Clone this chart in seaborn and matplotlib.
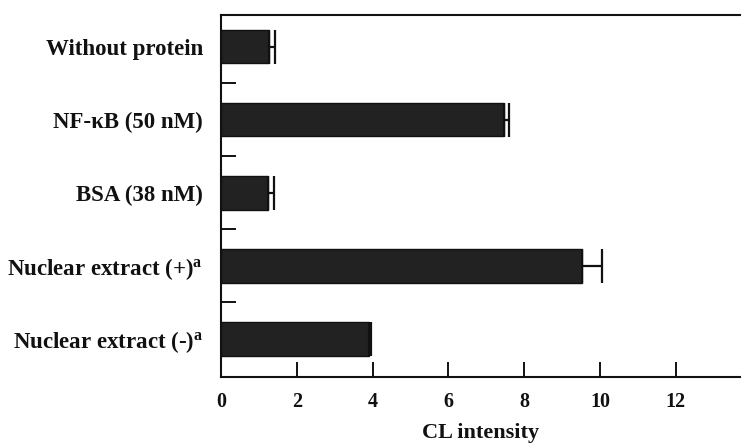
import matplotlib
matplotlib.use("Agg")
import matplotlib.pyplot as plt
import seaborn as sns
import numpy as np
import pandas as pd

categories = ["Without protein", "NF-κB (50 nM)", "BSA (38 nM)",
              "Nuclear extract (+)", "Nuclear extract (-)"]
tick_labels = ["Without protein", "NF-κB (50 nM)", "BSA (38 nM)",
               r"Nuclear extract (+)$^{\mathbf{a}}$", r"Nuclear extract (-)$^{\mathbf{a}}$"]
values = [1.27, 7.48, 1.25, 9.52, 3.90]
errors = [0.16, 0.12, 0.15, 0.52, 0.06]
x_ticks = [0, 2, 4, 6, 8, 10, 12]

sns.set_theme(style="white")
plt.rcParams["font.family"] = ["Liberation Serif", "DejaVu Serif"]
plt.rcParams["font.weight"] = "bold"
plt.rcParams["mathtext.fontset"] = "custom"
plt.rcParams["mathtext.rm"] = "Liberation Serif:bold"
plt.rcParams["mathtext.bf"] = "Liberation Serif:bold"
plt.rcParams["mathtext.it"] = "Liberation Serif:bold"

df = pd.DataFrame({"cat": categories, "val": values})

fig = plt.figure(figsize=(7.41, 4.45), dpi=100)
ax = fig.add_axes([221 / 741, 1 - 377 / 445, 1 - 221 / 741, (377 - 15) / 445])

sns.barplot(data=df, x="val", y="cat", orient="h", order=categories,
            color="#222222", edgecolor="#111111", linewidth=1.0,
            width=0.456, errorbar=None, ax=ax, saturation=1)

pos = np.arange(len(categories))
ax.errorbar(values, pos, xerr=[np.zeros(len(errors)), errors], fmt="none",
            ecolor="#111111", elinewidth=1.6, capsize=12, capthick=1.6)

ax.set_xlim(0, 13.72)
ax.set_ylim(4.52, -0.434)

ax.set_xticks(x_ticks)
ax.set_xticklabels([str(t) for t in x_ticks], fontsize=14.5, fontweight="bold")
ax.set_yticks(pos)
ax.set_yticklabels(tick_labels, fontsize=16.5, fontweight="bold")
ax.set_yticks(pos[:-1] + 0.5, minor=True)

ax.tick_params(axis="x", which="major", direction="in", length=11, width=1.4,
               pad=11, colors="#111111", bottom=True)
ax.tick_params(axis="y", which="major", length=0, pad=13, colors="#111111", left=False)
ax.tick_params(axis="y", which="minor", direction="in", length=11, width=1.4,
               left=True, color="#111111")

ax.set_ylabel("")
ax.set_xlabel("CL intensity", fontsize=16, fontweight="bold", labelpad=8, color="#111111")

for s in ["left", "top", "bottom"]:
    ax.spines[s].set_visible(True)
    ax.spines[s].set_color("#111111")
    ax.spines[s].set_linewidth(1.5)
ax.spines["right"].set_visible(False)

fig.savefig("out.png", dpi=100)
